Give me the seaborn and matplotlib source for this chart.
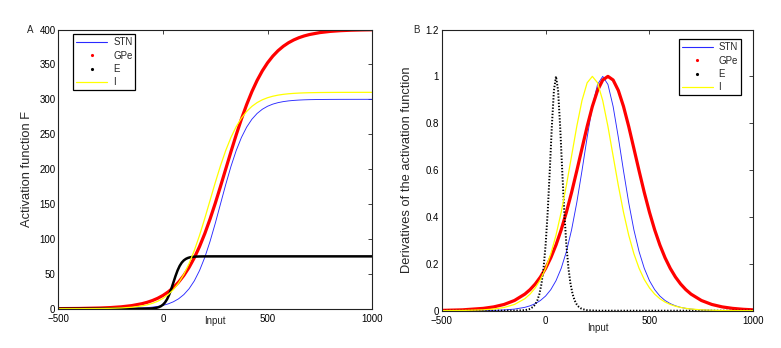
import numpy as np
import pandas as pd
import matplotlib
matplotlib.use("Agg")
import matplotlib.pyplot as plt
from matplotlib.lines import Line2D
import seaborn as sns

# input grid shared by STN, GPe and I
x_in = [-500, -400, -300, -250, -200, -150, -100, -75, -50, -25, 0, 25, 50, 75,
        100, 125, 150, 175, 200, 225, 250, 275, 300, 325, 350, 375, 400, 425,
        450, 475, 500, 525, 550, 575, 600, 625, 650, 675, 700, 750, 800, 850,
        900, 950, 1000]

# panel A: activation functions
stn_F = [0.0, 0.01, 0.05, 0.11, 0.24, 0.51, 1.08, 1.57, 2.27, 3.30, 4.77, 6.89,
         9.93, 14.23, 20.27, 28.61, 39.89, 54.73, 73.52, 96.25, 122.20, 150.0,
         177.80, 203.75, 226.48, 245.27, 260.11, 271.40, 279.74, 285.77, 290.07,
         293.11, 295.23, 296.70, 297.73, 298.43, 298.92, 299.26, 299.49, 299.76,
         299.89, 299.95, 299.97, 299.99, 300.0]
gpe_F = [0.13, 0.36, 0.99, 1.63, 2.68, 4.39, 7.19, 9.19, 11.72, 14.93, 18.97,
         24.04, 30.34, 38.14, 47.68, 59.20, 72.96, 89.08, 107.56, 128.32, 151.0,
         175.12, 200.0, 224.88, 249.0, 271.68, 292.44, 310.92, 327.04, 340.80,
         352.32, 361.86, 369.66, 375.96, 381.03, 385.07, 388.28, 390.81, 392.80,
         395.60, 397.32, 398.37, 399.01, 399.40, 399.64]
i_F = [0.02, 0.07, 0.28, 0.55, 1.07, 2.07, 4.02, 5.58, 7.73, 10.68, 14.70, 20.14,
       27.40, 36.95, 49.25, 64.67, 83.37, 105.16, 129.40, 155.0, 180.60, 204.84,
       226.63, 245.33, 260.75, 273.05, 282.60, 289.86, 295.30, 299.32, 302.27,
       304.42, 305.98, 307.11, 307.93, 308.51, 308.93, 309.23, 309.45, 309.72,
       309.85, 309.93, 309.96, 309.98, 309.99]

# panel B: normalised derivatives
stn_dF = [0.0, 0.0002, 0.0007, 0.0015, 0.0032, 0.0068, 0.0143, 0.0208, 0.0301,
          0.0435, 0.0626, 0.0898, 0.1280, 0.1807, 0.2520, 0.3450, 0.4611, 0.5966,
          0.7401, 0.8716, 0.9656, 1.0, 0.9656, 0.8716, 0.7401, 0.5966, 0.4611,
          0.3450, 0.2520, 0.1807, 0.1280, 0.0898, 0.0626, 0.0435, 0.0301, 0.0208,
          0.0143, 0.0099, 0.0068, 0.0032, 0.0015, 0.0007, 0.0003, 0.0002, 0.0001]
gpe_dF = [0.0013, 0.0036, 0.0099, 0.0162, 0.0266, 0.0435, 0.0707, 0.0898, 0.1138,
          0.1437, 0.1807, 0.2259, 0.2804, 0.3451, 0.4200, 0.5044, 0.5966, 0.6920,
          0.7864, 0.8717, 0.9400, 0.9845, 1.0, 0.9845, 0.9400, 0.8717, 0.7864,
          0.6920, 0.5966, 0.5044, 0.4200, 0.3451, 0.2804, 0.2259, 0.1807, 0.1437,
          0.1138, 0.0898, 0.0707, 0.0435, 0.0266, 0.0162, 0.0099, 0.0060, 0.0036]
i_dF = [0.0003, 0.0010, 0.0036, 0.0071, 0.0137, 0.0266, 0.0511, 0.0707, 0.0972,
        0.1330, 0.1807, 0.2430, 0.3223, 0.4200, 0.5345, 0.6604, 0.7865, 0.8966,
        0.9727, 1.0, 0.9727, 0.8966, 0.7865, 0.6604, 0.5345, 0.4200, 0.3223,
        0.2430, 0.1807, 0.1330, 0.0972, 0.0707, 0.0511, 0.0369, 0.0266, 0.0191,
        0.0137, 0.0099, 0.0071, 0.0036, 0.0019, 0.0010, 0.0005, 0.0003, 0.0001]

# E population has a much narrower transition, so its own finer grid
x_e = [-500, -300, -200, -150, -100, -80, -60, -50, -40, -30, -20, -10, 0, 10,
       20, 30, 40, 50, 60, 70, 80, 90, 100, 110, 120, 130, 140, 150, 160, 170,
       180, 200, 250, 300, 400, 500, 600, 700, 800, 900, 1000]
e_F = [0.0, 0.0, 0.0, 0.0, 0.04, 0.11, 0.31, 0.50, 0.82, 1.35, 2.20, 3.56, 5.69,
       8.94, 13.68, 20.17, 28.31, 37.5, 46.69, 54.83, 61.32, 66.06, 69.31, 71.44,
       72.80, 73.65, 74.18, 74.50, 74.69, 74.81, 74.89, 74.96, 75.0, 75.0, 75.0,
       75.0, 75.0, 75.0, 75.0, 75.0, 75.0]
e_dF = [0.0, 0.0, 0.0, 0.0002, 0.0022, 0.0060, 0.0162, 0.0266, 0.0435, 0.0707,
        0.1138, 0.1807, 0.2804, 0.4200, 0.5966, 0.7864, 0.9400, 1.0, 0.9400,
        0.7864, 0.5966, 0.4200, 0.2804, 0.1807, 0.1138, 0.0707, 0.0435, 0.0266,
        0.0162, 0.0099, 0.0060, 0.0022, 0.0, 0.0, 0.0, 0.0, 0.0, 0.0, 0.0, 0.0, 0.0]

labels = ["STN", "GPe", "E", "I"]
colors = {"STN": "#2a2aff", "GPe": "#ff0000", "E": "#000000", "I": "#ffff00"}

main = pd.DataFrame({"x": x_in, "STN_F": stn_F, "GPe_F": gpe_F, "I_F": i_F,
                     "STN_dF": stn_dF, "GPe_dF": gpe_dF, "I_dF": i_dF})
e_df = pd.DataFrame({"x": x_e, "E_F": e_F, "E_dF": e_dF})

sns.set_style("white")
plt.rcParams["font.family"] = ["Liberation Sans", "DejaVu Sans"]
plt.rcParams["font.size"] = 7

fig = plt.figure(figsize=(7.81, 3.48), dpi=100)
axA = fig.add_axes([0.0746, 0.1129, 0.402, 0.8023])
axB = fig.add_axes([0.5656, 0.1072, 0.399, 0.808])

# -------------------------------
# Panel A
# -------------------------------
sns.lineplot(data=main, x="x", y="STN_F", ax=axA, color=colors["STN"], lw=0.65)
sns.lineplot(data=main, x="x", y="GPe_F", ax=axA, color=colors["GPe"], lw=2.3)
sns.lineplot(data=e_df, x="x", y="E_F", ax=axA, color=colors["E"], lw=1.8)
sns.lineplot(data=main, x="x", y="I_F", ax=axA, color=colors["I"], lw=0.9)
axA.set_ylim(0, 400)
axA.set_yticks(np.arange(0, 401, 50))
axA.set_ylabel("Activation function F", fontsize=9.3)
axA.yaxis.set_label_coords(-0.08, 0.5)
axA.set_xlabel("Input")
axA.xaxis.set_label_coords(0.5, -0.025)

# -------------------------------
# Panel B
# -------------------------------
sns.lineplot(data=main, x="x", y="STN_dF", ax=axB, color=colors["STN"], lw=0.65)
sns.lineplot(data=main, x="x", y="GPe_dF", ax=axB, color=colors["GPe"], lw=2.3)
sns.lineplot(data=e_df, x="x", y="E_dF", ax=axB, color=colors["E"], lw=1.4,
             linestyle=(0, (0.7, 0.9)))
sns.lineplot(data=main, x="x", y="I_dF", ax=axB, color=colors["I"], lw=0.9)
axB.set_ylim(0, 1.2)
axB.set_yticks([0, 0.2, 0.4, 0.6, 0.8, 1.0, 1.2])
axB.set_yticklabels(["0", "0.2", "0.4", "0.6", "0.8", "1", "1.2"])
axB.set_ylabel("Derivatives of the activation function", fontsize=9.3)
axB.yaxis.set_label_coords(-0.092, 0.5)
axB.set_xlabel("Input")
axB.xaxis.set_label_coords(0.5, -0.045)

handles = [Line2D([], [], color=colors["STN"], lw=0.8),
           Line2D([], [], color=colors["GPe"], ls="none", marker=".", ms=2.5),
           Line2D([], [], color=colors["E"], ls="none", marker=".", ms=2.5),
           Line2D([], [], color=colors["I"], lw=0.9)]

for ax, tag, tx in [(axA, "A", -0.09), (axB, "B", -0.08)]:
    ax.set_xlim(-500, 1000)
    ax.set_xticks([-500, 0, 500, 1000])
    ax.tick_params(direction="in", length=3, width=0.6, top=True, right=True,
                   labelsize=7, pad=2, colors="#222222", labelcolor="black")
    ax.tick_params(axis="x", pad=3.5)
    for s in ax.spines.values():
        s.set_color("#222222")
        s.set_linewidth(0.8)
    ax.text(tx, 1.0, tag, transform=ax.transAxes, ha="center", va="center",
            fontsize=7)

legend_kw = dict(frameon=True, fancybox=False, edgecolor="black", fontsize=7,
                 handlelength=3.2, borderpad=0.3, labelspacing=0.35,
                 handletextpad=0.6, borderaxespad=0)
axA.legend(handles, labels, loc="upper left", bbox_to_anchor=(0.048, 0.983),
           **legend_kw)
axB.legend(handles, labels, loc="upper right", bbox_to_anchor=(0.96, 0.965),
           **legend_kw)
for leg in [axA.get_legend(), axB.get_legend()]:
    leg.get_frame().set_linewidth(0.9)
    leg.get_frame().set_alpha(1)

fig.savefig("out.png", dpi=100)
